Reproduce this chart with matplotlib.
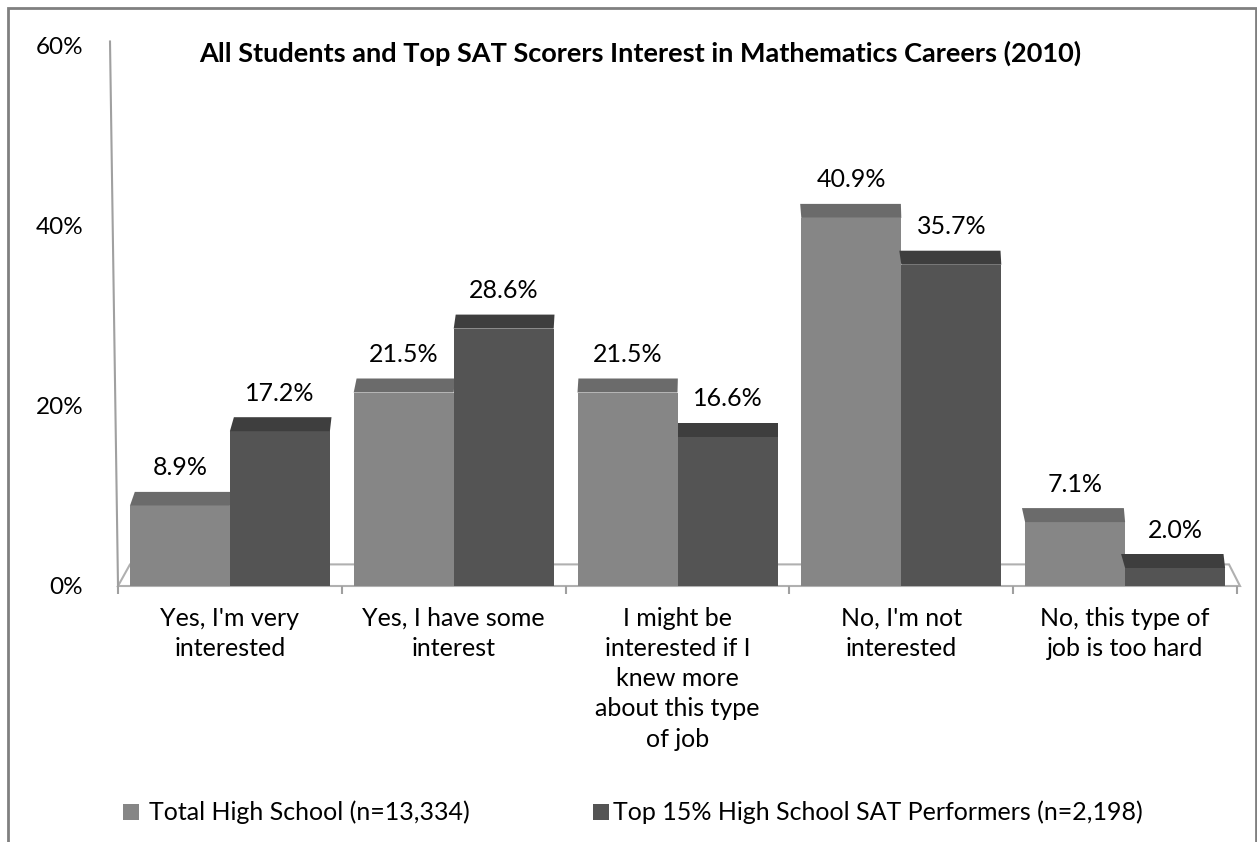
import matplotlib.pyplot as plt
from matplotlib.patches import Polygon, Rectangle

categories = [
    "Yes, I'm very\ninterested",
    "Yes, I have some\ninterest",
    "I might be\ninterested if I\nknew more\nabout this type\nof job",
    "No, I'm not\ninterested",
    "No, this type of\njob is too hard",
]
total_hs = [8.9, 21.5, 21.5, 40.9, 7.1]
top_sat = [17.2, 28.6, 16.6, 35.7, 2.0]
series_names = ["Total High School (n=13,334)",
                "Top 15% High School SAT Performers (n=2,198)"]
y_ticks = [0, 20, 40, 60]

front_colors = ["#868686", "#545454"]
top_colors = ["#6b6b6b", "#3e3e3e"]

plt.rcParams["font.family"] = ["Lato", "DejaVu Sans"]

W, H = 1257, 842
fig = plt.figure(figsize=(W / 100, H / 100), dpi=100)

# axes placed so 0%..60% runs from y=586px to y=46px
left, right, bottom, top = 118, 1237, 586, 46
ax = fig.add_axes([left / W, (H - bottom) / H, (right - left) / W, (bottom - top) / H])
ax.set_xlim(-0.5, 4.5)
ax.set_ylim(0, 60)

px_x = 5.0 / (right - left)      # data units per pixel along x
px_y = 60.0 / (bottom - top)     # data units per pixel along y

bar_w = 100 * px_x
depth = 14 * px_y

# floor (thin slab seen from above)
floor = Polygon([(-0.5, 0), (-0.5 + 12 * px_x, 2.4), (4.5 - 8 * px_x, 2.4),
                 (4.5 + 3 * px_x, 0)], closed=True, facecolor="white",
                edgecolor="#b0b0b0", lw=1.5, zorder=1, clip_on=False)
ax.add_patch(floor)
ax.plot([-0.5 - 8 * px_x, -0.5], [60.5, 0], color="#a0a0a0", lw=1.5,
        clip_on=False, zorder=1)

for s, vals in enumerate([total_hs, top_sat]):
    for i, v in enumerate(vals):
        x0 = i + (-1 if s == 0 else 0) * bar_w
        x1 = x0 + bar_w
        # slight perspective shift of the top face across the chart
        shift = (5 - 10 * (x0 + 0.5) / 5.0) * px_x
        ax.bar(x0, v, width=bar_w, align="edge", color=front_colors[s],
               edgecolor="none", zorder=3 + s)
        ax.add_patch(Polygon([(x0, v), (x0 + shift, v + depth),
                              (x1 + shift * 0.4, v + depth), (x1, v)],
                             closed=True, facecolor=top_colors[s],
                             edgecolor="none", zorder=3 + s, clip_on=False))
        ax.text((x0 + x1) / 2, v + depth + 24 * px_y, f"{v:.1f}%",
                ha="center", va="center", fontsize=18, zorder=6)

for sp in ax.spines.values():
    sp.set_visible(False)
ax.set_yticks(y_ticks)
ax.set_yticklabels([f"{t}%" for t in y_ticks], fontsize=17.5)
ax.tick_params(axis="y", length=0, pad=25)
ax.set_xticks(range(len(categories)))
ax.set_xticklabels(categories, fontsize=18, linespacing=1.38, va="top")
ax.tick_params(axis="x", which="major", length=0, pad=15)
ax.set_xticks([i - 0.5 for i in range(len(categories) + 1)], minor=True)
ax.tick_params(axis="x", which="minor", length=6, color="#a0a0a0", width=1.5)

fig.text(640 / W, 1 - 53 / H, "All Students and Top SAT Scorers Interest in Mathematics Careers (2010)",
         ha="center", va="center", fontsize=19.5, fontweight="bold")

# legend
for (px, tx), name, c in zip([(123, 149), (593, 613)], series_names, front_colors):
    fig.patches.append(Rectangle((px / W, 1 - 820 / H), 16 / W, 16 / H,
                                 transform=fig.transFigure, facecolor=c,
                                 edgecolor="none"))
    fig.text(tx / W, 1 - 812 / H, name, ha="left", va="center", fontsize=18)

# outer frame
fig.patches.append(Rectangle((8 / W, -0.05), 1248 / W, 1.05 - 8 / H,
                             transform=fig.transFigure, facecolor="none",
                             edgecolor="#808080", lw=2))

fig.savefig("out.png", dpi=100)
